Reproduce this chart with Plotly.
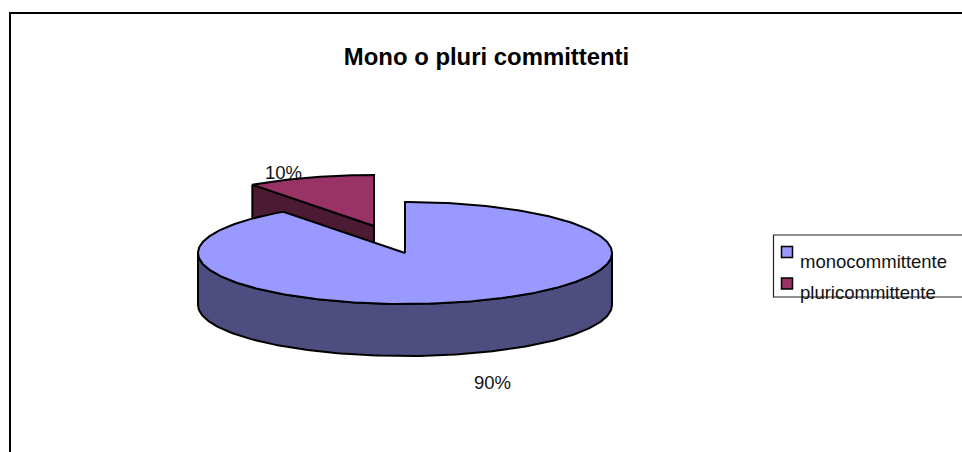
"""Mono o pluri committenti: tilted pie, drawn from the shares on a pixel-sized axis."""

import numpy as np
import plotly.graph_objects as go

categories = ["monocommittente", "pluricommittente"]
shares = [90, 10]
top_colors = ["#9999ff", "#993366"]
side_colors = ["#4d4d80", "#4d1a33"]

# pie geometry in page pixels
CX, CY = 405, 253
RX, RY = 207, 51
DEPTH = 52
SLICE_OFFSET = (-31, -27)
OUTLINE = dict(color="#000000", width=2)


def rim(start_deg, end_deg, cx=CX, cy=CY):
    """Points on the ellipse, angles clockwise from the top."""
    n = max(int(abs(end_deg - start_deg)) + 1, 2)
    theta = np.radians(np.linspace(start_deg, end_deg, n))
    return cx + RX * np.sin(theta), cy - RY * np.cos(theta)


def add_poly(fig, x, y, color):
    fig.add_trace(
        go.Scatter(
            x=list(x),
            y=list(y),
            mode="lines",
            fill="toself",
            fillcolor=color,
            line=OUTLINE,
            hoverinfo="skip",
            showlegend=False,
        )
    )


main_end = 360 * shares[0] / sum(shares)
sx, sy = CX + SLICE_OFFSET[0], CY + SLICE_OFFSET[1]

fig = go.Figure()

# exploded slice: inner wall first, then its top
tip_x, tip_y = rim(main_end, main_end, sx, sy)
add_poly(
    fig,
    [tip_x[0], sx, sx, tip_x[0], tip_x[0]],
    [tip_y[0], sy, sy + DEPTH, tip_y[0] + DEPTH, tip_y[0]],
    side_colors[1],
)
arc_x, arc_y = rim(main_end, 360, sx, sy)
add_poly(fig, [sx, *arc_x, sx], [sy, *arc_y, sy], top_colors[1])

# main slice: visible side wall, then its top
wall_x, wall_y = rim(90, 270)
add_poly(
    fig,
    [*wall_x, *wall_x[::-1], wall_x[0]],
    [*wall_y, *(wall_y[::-1] + DEPTH), wall_y[0]],
    side_colors[0],
)
arc_x, arc_y = rim(0, main_end)
add_poly(fig, [CX, *arc_x, CX], [CY, *arc_y, CY], top_colors[0])

# legend swatches
fig.add_trace(
    go.Scatter(
        x=[787, 787],
        y=[252, 283.5],
        mode="markers",
        marker=dict(
            symbol="square",
            size=11,
            color=top_colors,
            line=dict(color="#000000", width=1.5),
        ),
        hoverinfo="skip",
        showlegend=False,
    )
)

text_font = dict(family="Liberation Sans, Arial, sans-serif", size=18.5, color="#111111")
label_pos = [(492, 382), (283, 172)]
annotations = [
    dict(x=x, y=y, text=f"{share}%", showarrow=False, font=text_font)
    for (x, y), share in zip(label_pos, shares)
]
annotations += [
    dict(x=797.5, y=y, text=name, showarrow=False, xanchor="left", font=text_font)
    for y, name in zip([261.5, 292.5], categories)
]

fig.update_layout(
    width=962,
    height=452,
    margin=dict(l=0, r=0, t=0, b=0),
    paper_bgcolor="#ffffff",
    plot_bgcolor="#ffffff",
    showlegend=False,
    title=dict(
        text="<b>Mono o pluri committenti</b>",
        x=486.5 / 962,
        xanchor="center",
        y=1 - 57 / 452,
        yanchor="middle",
        font=dict(family="Liberation Sans, Arial, sans-serif", size=23.9, color="#000000"),
    ),
    annotations=annotations,
    shapes=[
        dict(type="rect", x0=10, y0=13, x1=1000, y1=500, layer="below",
             line=dict(color="#000000", width=2)),
        dict(type="rect", x0=773.5, y0=235, x1=1000, y1=297, layer="below",
             line=dict(color="#222222", width=1.2)),
    ],
    xaxis=dict(range=[0, 962], visible=False, fixedrange=True),
    yaxis=dict(range=[452, 0], visible=False, fixedrange=True),
)

fig.write_html(
    "out.html",
    config={"displayModeBar": False},
    post_script="document.body.style.margin='0';document.body.style.overflow='hidden';",
)
